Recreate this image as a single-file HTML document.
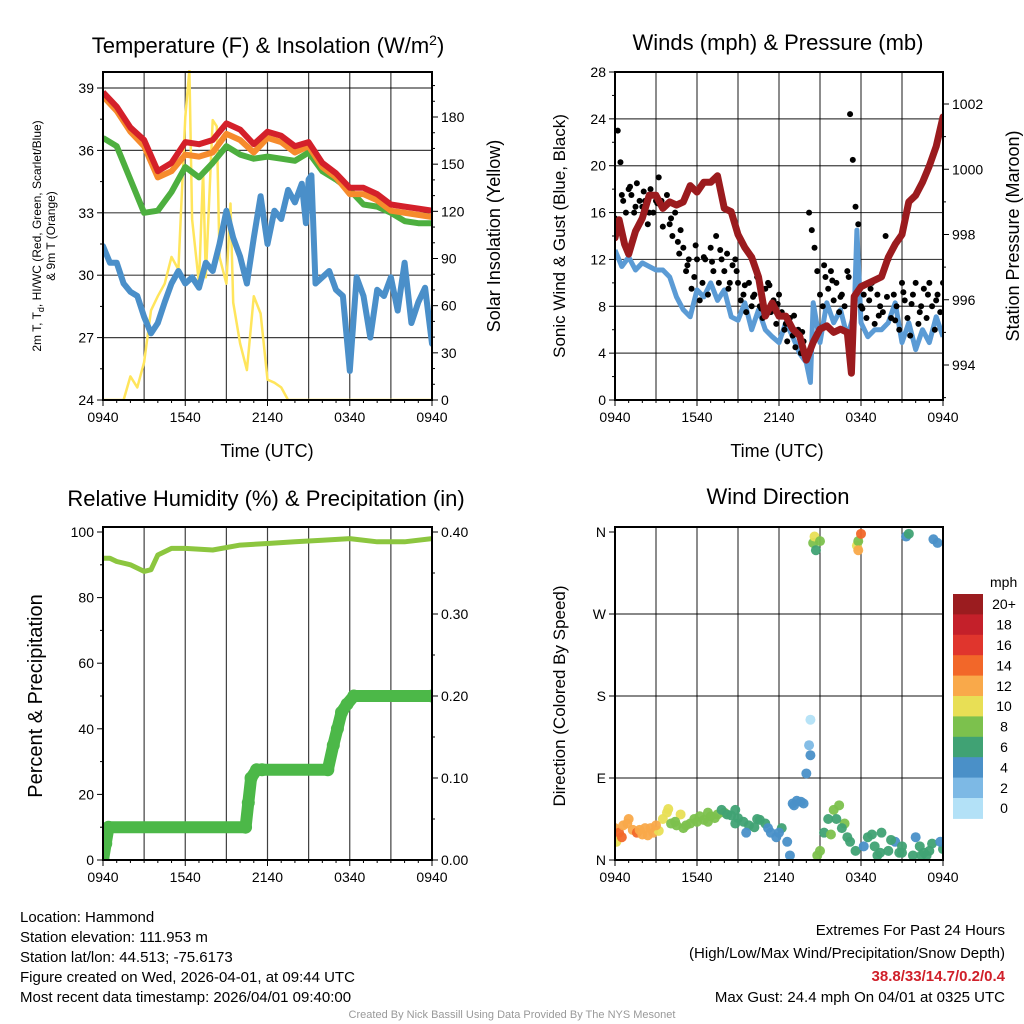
<!DOCTYPE html>
<html><head><meta charset="utf-8"><title>Mesonet Meteogram - Hammond</title>
<style>
html,body{margin:0;padding:0;background:#fff;}
svg{display:block;font-family:"Liberation Sans",Arial,sans-serif;}
</style></head>
<body>
<svg id="chart" width="1024" height="1024" viewBox="0 0 1024 1024" xmlns="http://www.w3.org/2000/svg">
<rect width="1024" height="1024" fill="#fff"/>
<text x="268" y="53" font-size="22" text-anchor="middle">Temperature (F) &amp; Insolation (W/m<tspan dy="-8" font-size="14">2</tspan><tspan dy="8">)</tspan></text>
<text x="778" y="50" font-size="22" text-anchor="middle">Winds (mph) &amp; Pressure (mb)</text>
<text x="266" y="506" font-size="22" text-anchor="middle">Relative Humidity (%) &amp; Precipitation (in)</text>
<text x="778" y="504" font-size="22" text-anchor="middle">Wind Direction</text>

<text x="267" y="457" font-size="18" text-anchor="middle">Time (UTC)</text>
<text x="777" y="457" font-size="18" text-anchor="middle">Time (UTC)</text>

<text transform="translate(41,236) rotate(-90)" font-size="12" text-anchor="middle">2m T, T<tspan dy="3" font-size="9">d</tspan><tspan dy="-3">, HI/WC (Red, Green, Scarlet/Blue)</tspan></text>
<text transform="translate(55,236) rotate(-90)" font-size="12" text-anchor="middle">&amp; 9m T (Orange)</text>
<text transform="translate(500,236) rotate(-90)" font-size="18" text-anchor="middle">Solar Insolation (Yellow)</text>
<text transform="translate(565,236) rotate(-90)" font-size="17" text-anchor="middle">Sonic Wind &amp; Gust (Blue, Black)</text>
<text transform="translate(1019,236) rotate(-90)" font-size="18" text-anchor="middle">Station Pressure (Maroon)</text>
<text transform="translate(42,696) rotate(-90)" font-size="20" text-anchor="middle">Percent &amp; Precipitation</text>
<text transform="translate(565,696) rotate(-90)" font-size="17" text-anchor="middle">Direction (Colored By Speed)</text>

<g font-size="15">
<text x="20" y="922">Location: Hammond</text>
<text x="20" y="942">Station elevation: 111.953 m</text>
<text x="20" y="962">Station lat/lon: 44.513; -75.6173</text>
<text x="20" y="982">Figure created on Wed, 2026-04-01, at 09:44 UTC</text>
<text x="20" y="1002">Most recent data timestamp: 2026/04/01 09:40:00</text>
</g>
<g font-size="15" text-anchor="end">
<text x="1005" y="935">Extremes For Past 24 Hours</text>
<text x="1005" y="958">(High/Low/Max Wind/Precipitation/Snow Depth)</text>
<text x="1005" y="981" fill="#d0202a" font-weight="bold">38.8/33/14.7/0.2/0.4</text>
<text x="1005" y="1002">Max Gust: 24.4 mph On 04/01 at 0325 UTC</text>
</g>
<text x="512" y="1018" font-size="11" fill="#999" text-anchor="middle">Created By Nick Bassill Using Data Provided By The NYS Mesonet</text>
<g id="layer"></g>
</svg>
<script>
// ---------- DATA ----------
const timeTickLabels = ["0940","1540","2140","0340","0940"];
const hourT = [0,1,2,3,4,5,6,7,8,9,10,11,12,13,14,15,16,17,18,19,20,21,22,23,24];
const tempRed = [38.8,38.1,37.1,36.5,35.0,35.4,36.4,36.3,36.5,37.3,37.0,36.3,36.9,36.7,36.2,36.4,35.4,34.9,34.2,34.2,33.9,33.4,33.3,33.2,33.1];
const tempOrange = [38.6,37.9,36.9,36.2,34.7,35.0,35.8,35.7,35.9,36.8,36.5,35.9,36.6,36.4,35.9,36.2,35.2,34.7,33.9,33.9,33.6,33.1,33.0,32.9,32.8];
const tempGreen = [36.6,36.2,34.6,33.0,33.1,34.0,35.2,34.7,35.4,36.2,35.8,35.6,35.7,35.6,35.5,35.9,35.0,34.6,34.1,33.4,33.3,33.0,32.6,32.5,32.5];
const dewT = [0,0.5,1,1.5,2,2.5,3,3.5,4,4.5,5,5.5,6,6.5,7,7.5,8,8.5,9,9.5,10,10.5,11,11.5,12,12.5,13,13.5,14,14.5,14.8,15,15.2,15.5,16,16.5,17,17.5,18,18.5,19,19.5,20,20.5,21,21.5,22,22.5,23,23.5,24];
const dewV = [31.4,30.6,30.6,29.6,29.2,29.0,28.0,27.2,27.7,28.7,29.6,30.2,29.6,29.9,29.4,30.6,30.2,31.5,33.1,31.8,30.9,29.6,31.8,33.8,31.5,33.1,32.7,34.1,33.5,34.4,32.5,34.6,34.8,29.6,29.9,30.2,29.3,29.0,25.4,29.9,29.0,27.0,29.3,29.0,29.9,28.3,30.6,27.7,28.7,29.4,26.7];
const solarT = [0,1,1.5,2,2.5,3,3.5,4,4.5,5,5.5,6,6.3,6.5,7,7.3,7.5,8,8.3,8.5,9,9.3,9.5,10,10.5,11,11.5,12,12.5,13,13.5,14,24];
const solarV = [0,0,0,15,8,24,57,66,74,91,83,180,210,115,74,146,78,178,174,91,74,125,62,36,19,66,55,13,11,8,0,0,0];
const windT = [0,0.5,1,1.5,2,2.5,3,3.5,4,4.5,5,5.5,6,6.5,7,7.5,8,8.5,9,9.5,10,10.5,11,11.5,12,12.5,13,13.5,14,14.3,14.5,15,15.5,16,16.5,17,17.5,17.7,18,18.5,19,19.5,20,20.5,21,21.5,22,22.5,23,23.5,24];
const windV = [12.8,11.4,12.2,11.1,11.7,11.4,11.1,11.1,10.5,8.8,7.7,7.1,9.4,8.8,10.0,8.5,9.4,7.1,6.8,8.3,6.0,7.7,6.0,5.4,4.9,6.6,5.4,4.0,3.2,1.5,8.3,4.9,8.3,6.6,7.7,5.4,7.4,14.5,6.6,5.4,6.0,6.0,6.6,8.3,4.9,6.6,4.3,6.0,4.9,7.1,5.4];
const presT = [0,0.3,0.7,1,1.5,2,2.5,3,3.5,4,4.5,5,5.5,6,6.5,7,7.5,8,8.5,9,9.5,10,10.5,11,11.5,12,12.5,13,13.5,14,14.5,15,15.5,16,16.5,17,17.3,17.5,18,18.5,19,19.5,20,20.5,21,21.5,22,22.5,23,23.5,24];
const presV = [997.9,998.45,997.7,997.4,998.1,998.5,999.2,999.2,998.8,999.0,998.9,999.0,999.5,999.3,999.6,999.6,999.8,998.8,998.7,998.0,997.6,997.3,996.7,995.5,995.9,995.5,995.5,995.1,994.9,994.15,994.7,995.1,995.2,995.0,995.1,995.0,993.75,996.1,996.4,996.5,996.6,996.7,997.3,997.7,998.0,999.0,999.2,999.6,1000.1,1000.7,1001.6];
const gustStep = 0.2;
const gustV = [15.5,23,20.3,17,16,18,17.5,16,18.5,17,16.5,
17,15,18,16,17,19,17,16.5,17.5,15,
14,16,13.5,14.5,13,11,12,9.5,10.5,12,
8.5,10,12,9,13,11,14,10,12,11,
12.5,10,11.5,12,10,8.5,9,7.5,10,8,
9,10.5,8,7,9.5,10,7.5,8.5,6.5,9,
7.5,6,5,7,5.5,4.5,6,4,5,3.5,
16,14.5,13,11,9,8,10.5,9.5,11,8.5,
10,7.5,9,8,11,24.4,20.5,16.5,15,8,
9,7,8.5,10,6.5,9,8,7.5,14,12,
7,9,8,6,10,8.5,7,5.5,9,10,
6.5,8,9.5,7,10,8,6,9,7.5,10];
const gust2T = [0.5,1.1,1.5,2.1,2.5,3.1,3.5,4.1,4.7,5.3,5.9,6.5,7.1,7.7,8.3,8.9,9.5,10.1,10.7,11.3,11.9,12.5,13.1,13.7,15.3,15.9,16.5,17.1,18.1,18.7,19.3,19.9,20.5,21.1,21.7,22.3,22.9,23.5];
const gust2V = [17.5,18.2,16.5,17.8,16,16.8,14.8,15.5,12.5,11.5,13.2,12.2,11.8,12.8,9.5,11,9.8,8.8,7.8,9.8,8.2,6.5,7.2,5.8,11.5,10.2,8.8,10.5,7.8,9.5,7.2,8.8,6.8,9.2,8.2,7.5,9,8.5];
const rhT = [0,0.5,1,2,3,3.5,4,5,6,8,10,12,14,16,18,20,22,24];
const rhV = [92,92,91,90,88,88.5,93,95,95,94.5,96,96.5,97,97.5,98,97,97,98];
const pcpT = [0,0.2,0.4,10.4,10.6,10.8,11.2,11.6,16.4,16.8,17.1,17.4,17.8,18.3,24];
const pcpV = [0,0.02,0.04,0.04,0.07,0.10,0.11,0.11,0.11,0.14,0.16,0.18,0.19,0.20,0.20];
const dirT = [0.0,0.3,0.6,1.0,1.3,1.6,2.0,2.4,2.8,3.2,3.5,3.8,4.1,4.5,5.0,5.5,6.0,6.5,7.0,7.5,8.0,8.5,9.0,9.4,9.8,10.2,10.6,11.0,11.4,11.8,12.2,12.6,13.0,13.3,13.6,14.0,14.2,14.3,14.5,14.6,14.7,14.8,15.0,15.3,15.6,16.0,16.4,16.8,17.2,17.6,17.7,17.8,18.0,18.5,19.0,19.5,20.0,20.5,21.0,21.3,21.5,21.8,22.0,22.3,22.6,23.0,23.3,23.6,24.0,22.8,14.3,0.1,2.2,4.8,6.8,8.8,12.8,15.8,19.2,20.8,
0.5,0.9,1.8,2.6,3.0,3.9,4.4,5.2,5.8,6.2,6.8,7.3,7.8,8.2,8.8,9.6,10.4,11.2,12.0,13.1,13.8,16.2,16.6,17.0,18.2,18.8,19.4,20.2,21.0,22.4,23.2,23.8,17.8,15.0];
const dirV = [35,30,38,45,33,30,28,27,30,32,45,52,40,38,35,40,42,44,48,50,52,49,46,42,38,36,44,40,30,25,35,20,62,65,64,95,126,115,348,355,340,5,10,30,45,55,60,40,20,10,345,350,358,25,15,30,10,20,15,355,358,5,25,15,8,10,352,348,12,5,154,20,35,50,42,55,5,28,5,8,
25,40,33,35,38,56,42,38,45,48,52,46,55,50,40,30,45,35,30,60,62,45,35,25,15,28,8,22,8,5,18,20,340,350];
const dirS = [12,13,12,11,12,13,12,12,11,10,10,10,8,8,7,8,8,7,7,7,7,6,6,6,6,5,5,5,4,4,5,3,4,4,4,4,2,3,8,9,5,8,7,6,6,7,7,8,6,6,10,8,14,6,5,5,6,4,5,4,5,5,4,6,5,5,4,4,6,5,0,10,12,9,8,6,4,7,5,6,
13,12,12,12,11,9,8,7,8,8,7,7,6,6,5,4,6,4,4,3,4,6,6,6,4,6,5,6,5,6,6,4,12,8];
const speedLabels = ["0","2","4","6","8","10","12","14","16","18","20+"];
const speedColors = ["#b3e1f7","#7db9e5","#4a90c8","#40a274","#7cc14d","#e8df55","#f9a94a","#f26729","#e0352d","#c4202a","#9b1c1f"];

// ---------- HELPERS ----------
const NS = "http://www.w3.org/2000/svg";
const layer = document.getElementById("layer");
function mk(tag, attrs, parent){
  const e = document.createElementNS(NS, tag);
  for (const k in attrs) e.setAttribute(k, attrs[k]);
  (parent || layer).appendChild(e);
  return e;
}
function lin(d0,d1,r0,r1){ return v => r0 + (v-d0)*(r1-r0)/(d1-d0); }
function pathD(xs, ys, fx, fy){
  let d = "";
  for (let i=0;i<xs.length;i++) d += (i?"L":"M") + fx(xs[i]).toFixed(1) + " " + fy(ys[i]).toFixed(1);
  return d;
}
const P1 = {x0:103, x1:432, y0:72, y1:400};
const P2 = {x0:615, x1:943, y0:72, y1:400};
const P3 = {x0:103, x1:432, y0:527, y1:860};
const P4 = {x0:615, x1:943, y0:527, y1:860};

function frame(P, name, hGrid, fy, vGrid){
  const fx = lin(0,24,P.x0,P.x1);
  const g = mk("g", {});
  
  
  if (vGrid) for (let h=3; h<24; h+=3){
    const l = mk("line",{x1:fx(h),x2:fx(h),y1:P.y0,y2:P.y1,stroke:"#000","stroke-width":1.2,"stroke-opacity":0.75}, g);
    
    
  }
  hGrid.forEach(v=>{
    const l = mk("line",{x1:P.x0,x2:P.x1,y1:fy(v),y2:fy(v),stroke:"#000","stroke-width":1.2,"stroke-opacity":0.75}, g);
    
    
  });
  for (let h=0; h<=24; h+=1){
    const major = h%6===0;
    const l = mk("line",{x1:fx(h),x2:fx(h),y1:P.y1,y2:P.y1+(major?6:3),stroke:"#000","stroke-width":1});
    
    
  }
  timeTickLabels.forEach((s,i)=>{
    const t = mk("text",{x:fx(i*6),y:P.y1+22,"font-size":14,"text-anchor":"middle"});
    t.textContent = s;
    
    
  });
  return fx;
}
function border(P, name){
  const r = mk("rect",{x:P.x0,y:P.y0,width:P.x1-P.x0,height:P.y1-P.y0,fill:"none",stroke:"#000","stroke-width":2});
  
  
}
function yAxis(P, name, side, vals, labels, fy, minorVals){
  const xa = side==="left" ? P.x0 : P.x1;
  const dir = side==="left" ? -1 : 1;
  vals.forEach((v,i)=>{
    const l = mk("line",{x1:xa,x2:xa+dir*6,y1:fy(v),y2:fy(v),stroke:"#000","stroke-width":1});
    
    
    const t = mk("text",{x:xa+dir*9,y:fy(v)+5,"font-size":14,"text-anchor":side==="left"?"end":"start"});
    t.textContent = labels[i];
    
    
  });
  (minorVals||[]).forEach(v=>{
    const l = mk("line",{x1:xa,x2:xa+dir*3,y1:fy(v),y2:fy(v),stroke:"#000","stroke-width":1});
    
    
  });
}
function clipFor(P, id){
  const cp = mk("clipPath",{id:id});
  mk("rect",{x:P.x0,y:P.y0-2,width:P.x1-P.x0,height:P.y1-P.y0+2}, cp);
  return "url(#"+id+")";
}

// ---------- PANEL 1 ----------
(function(){
  const fyT = lin(24,39,400,88);
  const fyS = lin(0,180,400,117);
  const fx = frame(P1, "temp", [27,30,33,36,39], fyT, true);
  const clip = clipFor(P1,"c1");
  const g = mk("g",{"clip-path":clip});
  const y = mk("path",{d:pathD(solarT,solarV,fx,fyS),fill:"none",stroke:"#ffe55c","stroke-width":2.5,"stroke-linejoin":"round"}, g);
  
  
  const b = mk("path",{d:pathD(dewT,dewV,fx,fyT),fill:"none",stroke:"#4a8fc9","stroke-width":6,"stroke-linejoin":"round","stroke-linecap":"round"}, g);
  
  
  const gr = mk("path",{d:pathD(hourT,tempGreen,fx,fyT),fill:"none",stroke:"#4daf3f","stroke-width":6,"stroke-linejoin":"round"}, g);
  
  
  const o = mk("path",{d:pathD(hourT,tempOrange,fx,fyT),fill:"none",stroke:"#f68b2c","stroke-width":6,"stroke-linejoin":"round"}, g);
  
  
  const r = mk("path",{d:pathD(hourT,tempRed,fx,fyT),fill:"none",stroke:"#d4202a","stroke-width":6,"stroke-linejoin":"round"}, g);
  
  
  border(P1,"temp");
  yAxis(P1,"temp-y","left",[24,27,30,33,36,39],["24","27","30","33","36","39"],fyT,[25.5,28.5,31.5,34.5,37.5]);
  yAxis(P1,"solar-y","right",[0,30,60,90,120,150,180],["0","30","60","90","120","150","180"],fyS,[10,20,40,50,70,80,100,110,130,140,160,170,190,200]);
})();

// ---------- PANEL 2 ----------
(function(){
  const fyW = lin(0,28,400,72);
  const fyP = lin(994,1002,365,104);
  const fx = frame(P2, "wind", [4,8,12,16,20,24], fyW, true);
  const clip = clipFor(P2,"c2");
  const g = mk("g",{"clip-path":clip});
  const w = mk("path",{d:pathD(windT,windV,fx,fyW),fill:"none",stroke:"#5b9bd5","stroke-width":5,"stroke-linejoin":"round"}, g);
  
  
  gustV.forEach((v,i)=>{
    const c = mk("circle",{cx:fx(i*gustStep),cy:fyW(v),r:3,fill:"#000"}, g);
    
    
  });
  gust2T.forEach((t,i)=>{
    const c = mk("circle",{cx:fx(t),cy:fyW(gust2V[i]),r:3,fill:"#000"}, g);
    
    
  });
  const p = mk("path",{d:pathD(presT,presV,fx,fyP),fill:"none",stroke:"#9b1b1e","stroke-width":7,"stroke-linejoin":"round","stroke-linecap":"round"}, g);
  
  
  border(P2,"wind");
  yAxis(P2,"wind-y","left",[0,4,8,12,16,20,24,28],["0","4","8","12","16","20","24","28"],fyW,[2,6,10,14,18,22,26]);
  yAxis(P2,"pressure-y","right",[994,996,998,1000,1002],["994","996","998","1000","1002"],fyP,[993,995,997,999,1001]);
})();

// ---------- PANEL 3 ----------
(function(){
  const fyR = lin(0,100,860,532);
  const fyPc = lin(0,0.4,860,532);
  const fx = frame(P3, "humidity", [], fyR, true);
  const clip = clipFor(P3,"c3");
  const g = mk("g",{"clip-path":clip});
  const rh = mk("path",{d:pathD(rhT,rhV,fx,fyR),fill:"none",stroke:"#8cc63f","stroke-width":5,"stroke-linejoin":"round"}, g);
  
  
  const pc = mk("path",{d:pathD(pcpT,pcpV,fx,fyPc),fill:"none",stroke:"#4cb848","stroke-width":12,"stroke-linejoin":"round","stroke-linecap":"round"}, g);
  
  
  pcpT.forEach((t,i)=>{
    const c = mk("circle",{cx:fx(t),cy:fyPc(pcpV[i]),r:6.5,fill:"#4cb848"}, g);
    
    
  });
  border(P3,"humidity");
  yAxis(P3,"humidity-y","left",[0,20,40,60,80,100],["0","20","40","60","80","100"],fyR,[10,30,50,70,90]);
  yAxis(P3,"precip-y","right",[0,0.1,0.2,0.3,0.4],["0.00","0.10","0.20","0.30","0.40"],fyPc,[0.05,0.15,0.25,0.35]);
})();

// ---------- PANEL 4 ----------
(function(){
  const fyD = lin(0,360,860,532);
  const fx = frame(P4, "direction", [90,180,270], fyD, true);
  const clip = clipFor(P4,"c4");
  const g = mk("g",{"clip-path":clip});
  dirT.forEach((t,i)=>{
    const idx = Math.max(0, Math.min(10, Math.round(dirS[i]/2)));
    const c = mk("circle",{cx:fx(t),cy:fyD(dirV[i]),r:5,fill:speedColors[idx],"fill-opacity":0.95}, g);
    
    
  });
  border(P4,"direction");
  yAxis(P4,"direction-y","left",[0,90,180,270,360],["N","E","S","W","N"],fyD,[]);
  const cb = mk("g",{});
  
  
  const top = 594, h = 20.4;
  const ttl = mk("text",{x:990,y:587,"font-size":14}, cb);
  ttl.textContent = "mph";
  
  
  for (let k=0;k<speedColors.length;k++){
    const i = speedColors.length-1-k;
    const r = mk("rect",{x:953,y:top+k*h,width:30,height:h+0.5,fill:speedColors[i]}, cb);
    
    
    const t = mk("text",{x:1004,y:top+k*h+h/2+5,"font-size":14,"text-anchor":"middle"}, cb);
    t.textContent = speedLabels[i];
    
    
  }
})();
</script>
</body></html>
